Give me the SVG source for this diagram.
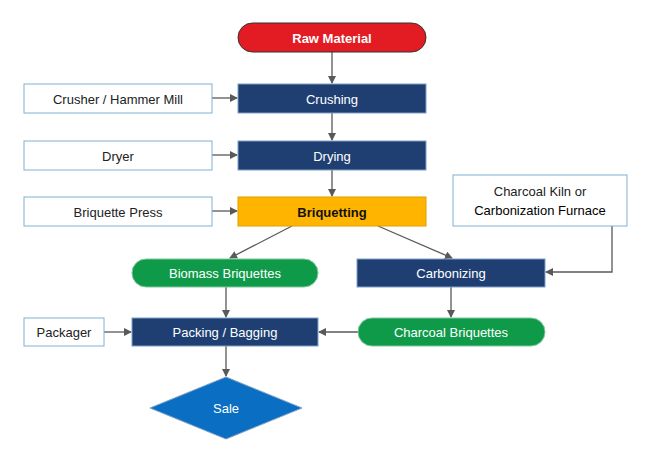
<svg xmlns="http://www.w3.org/2000/svg" width="650" height="463" viewBox="0 0 650 463">
<style>
text{font-family:"Liberation Sans",Arial,sans-serif;font-size:13px;text-anchor:middle;dominant-baseline:central}
.side{fill:#fff;stroke:#7fb2d0;stroke-width:1}
.side+text{fill:#222}
.blue{fill:#1f3f73;stroke:#7fa0c8;stroke-width:1}
.green{fill:#0f9a4a;stroke:#7fc89a;stroke-width:1}
.w{fill:#fff}
.c{stroke:#595959;stroke-width:1.3;fill:none;marker-end:url(#a)}
</style>
<defs><marker id="a" markerWidth="8" markerHeight="8" refX="7" refY="4" orient="auto" markerUnits="userSpaceOnUse"><path d="M0,0L8,4L0,8z" fill="#595959"/></marker></defs>
<rect width="650" height="463" fill="#fff"/>
<g id="connectors">
<path class="c" d="M332,52V83"/>
<path class="c" d="M332,113V140"/>
<path class="c" d="M332,170V196"/>
<path class="c" d="M212,98H237"/>
<path class="c" d="M212,155H237"/>
<path class="c" d="M212,211H237"/>
<path class="c" d="M292,226L230,258"/>
<path class="c" d="M378,226L452,258"/>
<path class="c" d="M612,226V272H546"/>
<path class="c" d="M451,287V317"/>
<path class="c" d="M358,332H319"/>
<path class="c" d="M226,287V317"/>
<path class="c" d="M104,332H131"/>
<path class="c" d="M226,346V376"/>
</g>
<g id="raw"><rect x="238" y="23" width="188" height="29" rx="14.5" fill="#e31b23" stroke="#333" stroke-width="1"/><text x="332" y="38" class="w" font-weight="bold">Raw Material</text></g>
<g id="crushing"><rect class="blue" x="238" y="84" width="188" height="29"/><text x="332" y="99" class="w">Crushing</text></g>
<g id="crusher"><rect class="side" x="24" y="84" width="188" height="29"/><text x="118" y="99">Crusher / Hammer Mill</text></g>
<g id="drying"><rect class="blue" x="238" y="141" width="188" height="29"/><text x="332" y="156" class="w">Drying</text></g>
<g id="dryer"><rect class="side" x="24" y="141" width="188" height="29"/><text x="118" y="156">Dryer</text></g>
<g id="briquetting"><rect x="238" y="197" width="188" height="29" fill="#ffb400" stroke="#e0a000"/><text x="332" y="212" font-weight="bold" fill="#111">Briquetting</text></g>
<g id="press"><rect class="side" x="24" y="197" width="188" height="29"/><text x="118" y="212">Briquette Press</text></g>
<g id="kiln"><rect class="side" x="453" y="175" width="174" height="51"/><text x="540" y="191">Charcoal Kiln or</text><text x="540" y="210">Carbonization Furnace</text></g>
<g id="biomass"><rect class="green" x="132" y="259" width="186" height="28" rx="14"/><text x="225" y="273" class="w">Biomass Briquettes</text></g>
<g id="carbonizing"><rect class="blue" x="357" y="259" width="188" height="28"/><text x="451" y="273" class="w">Carbonizing</text></g>
<g id="charcoal"><rect class="green" x="358" y="318" width="187" height="28" rx="14"/><text x="451" y="332" class="w">Charcoal Briquettes</text></g>
<g id="packing"><rect class="blue" x="132" y="318" width="186" height="28"/><text x="225" y="332" class="w">Packing / Bagging</text></g>
<g id="packager"><rect class="side" x="24" y="318" width="80" height="28"/><text x="64" y="332">Packager</text></g>
<g id="sale"><path d="M226,377L302,408L226,439L150,408z" fill="#0a6fc2" stroke="#7fa0c8"/><text x="226" y="408" class="w">Sale</text></g>
</svg>
